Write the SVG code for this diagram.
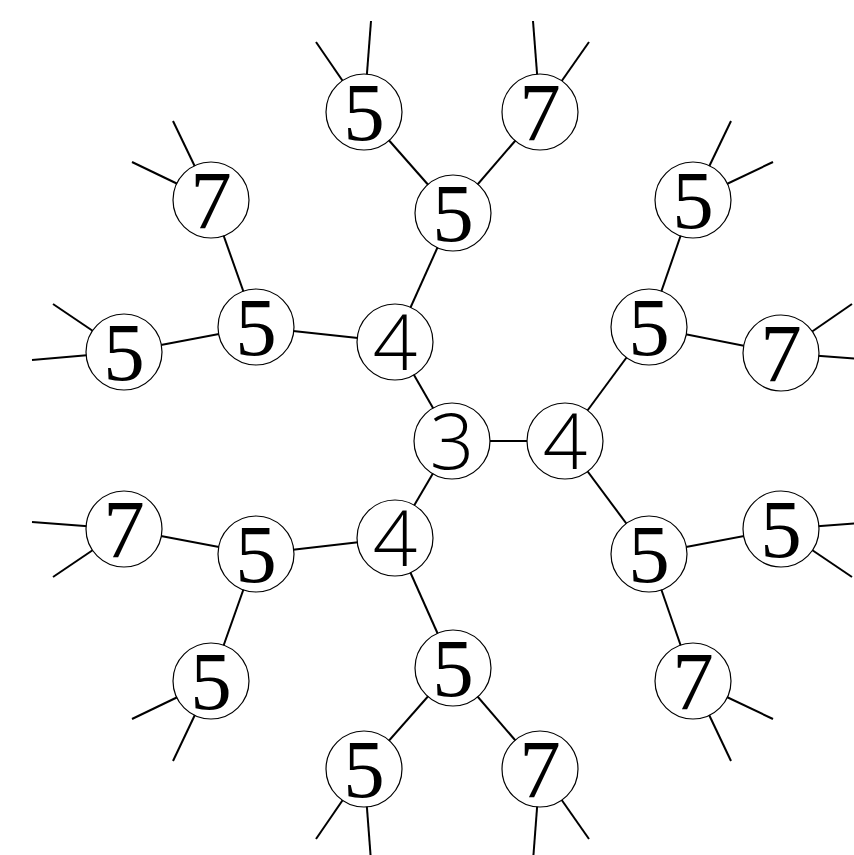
<svg xmlns="http://www.w3.org/2000/svg" width="854" height="855" viewBox="0 0 854 855">
<style>
.e{stroke:#000;stroke-width:2;fill:none}
.n circle{fill:#fff;stroke:#000;stroke-width:1.2}
.s{font-family:"Open Sans","DejaVu Sans",sans-serif;font-weight:300;font-size:78px;text-anchor:middle}
.r{font-family:"Liberation Serif","DejaVu Serif",serif;font-size:83px;text-anchor:middle}
</style>
<rect width="854" height="855" fill="#fff"/>
<g id="connectors">
<line class="e" x1="452" y1="441" x2="565" y2="441"/>
<line class="e" x1="452" y1="441" x2="395" y2="342"/>
<line class="e" x1="452" y1="441" x2="395" y2="538"/>
<line class="e" x1="395" y1="342" x2="453" y2="213"/>
<line class="e" x1="395" y1="342" x2="256" y2="327"/>
<line class="e" x1="453" y1="213" x2="364" y2="112"/>
<line class="e" x1="453" y1="213" x2="540" y2="112"/>
<line class="e" x1="256" y1="327" x2="211" y2="200"/>
<line class="e" x1="256" y1="327" x2="124" y2="352"/>
<line class="e" x1="395" y1="538" x2="453" y2="668"/>
<line class="e" x1="395" y1="538" x2="256" y2="554"/>
<line class="e" x1="453" y1="668" x2="364" y2="769"/>
<line class="e" x1="453" y1="668" x2="540" y2="769"/>
<line class="e" x1="256" y1="554" x2="124" y2="529"/>
<line class="e" x1="256" y1="554" x2="211" y2="681"/>
<line class="e" x1="565" y1="441" x2="649" y2="327"/>
<line class="e" x1="565" y1="441" x2="649" y2="554"/>
<line class="e" x1="649" y1="327" x2="693" y2="200"/>
<line class="e" x1="649" y1="327" x2="781" y2="353"/>
<line class="e" x1="649" y1="554" x2="781" y2="529"/>
<line class="e" x1="649" y1="554" x2="693" y2="681"/>
<line class="e" x1="364" y1="112" x2="316" y2="42"/>
<line class="e" x1="364" y1="112" x2="371" y2="21"/>
<line class="e" x1="540" y1="112" x2="533" y2="21"/>
<line class="e" x1="540" y1="112" x2="589" y2="42"/>
<line class="e" x1="211" y1="200" x2="173" y2="121"/>
<line class="e" x1="211" y1="200" x2="132" y2="162"/>
<line class="e" x1="124" y1="352" x2="53" y2="304"/>
<line class="e" x1="124" y1="352" x2="32" y2="360"/>
<line class="e" x1="693" y1="200" x2="731" y2="121"/>
<line class="e" x1="693" y1="200" x2="773" y2="162"/>
<line class="e" x1="781" y1="353" x2="852" y2="304"/>
<line class="e" x1="781" y1="353" x2="872" y2="360"/>
<line class="e" x1="124" y1="529" x2="32" y2="522"/>
<line class="e" x1="124" y1="529" x2="53" y2="577"/>
<line class="e" x1="211" y1="681" x2="132" y2="719"/>
<line class="e" x1="211" y1="681" x2="173" y2="761"/>
<line class="e" x1="364" y1="769" x2="316" y2="839"/>
<line class="e" x1="364" y1="769" x2="371" y2="861"/>
<line class="e" x1="540" y1="769" x2="533" y2="861"/>
<line class="e" x1="540" y1="769" x2="589" y2="839"/>
<line class="e" x1="781" y1="529" x2="872" y2="522"/>
<line class="e" x1="781" y1="529" x2="852" y2="577"/>
<line class="e" x1="693" y1="681" x2="773" y2="719"/>
<line class="e" x1="693" y1="681" x2="731" y2="761"/>
</g>
<g id="n3" class="n"><circle cx="452" cy="441" r="38"/><text class="s" x="452" y="469">3</text></g>
<g id="n4r" class="n"><circle cx="565" cy="441" r="38"/><text class="s" x="565" y="469">4</text></g>
<g id="n4t" class="n"><circle cx="395" cy="342" r="38"/><text class="s" x="395" y="370">4</text></g>
<g id="n4b" class="n"><circle cx="395" cy="538" r="38"/><text class="s" x="395" y="566">4</text></g>
<g id="n5a" class="n"><circle cx="453" cy="213" r="38"/><text class="r" x="453" y="241">5</text></g>
<g id="n5b" class="n"><circle cx="364" cy="112" r="38"/><text class="r" x="364" y="140">5</text></g>
<g id="n7a" class="n"><circle cx="540" cy="112" r="38"/><text class="r" x="540" y="140">7</text></g>
<g id="n5c" class="n"><circle cx="256" cy="327" r="38"/><text class="r" x="256" y="355">5</text></g>
<g id="n7b" class="n"><circle cx="211" cy="200" r="38"/><text class="r" x="211" y="228">7</text></g>
<g id="n5d" class="n"><circle cx="124" cy="352" r="38"/><text class="r" x="124" y="380">5</text></g>
<g id="n5e" class="n"><circle cx="453" cy="668" r="38"/><text class="r" x="453" y="696">5</text></g>
<g id="n5f" class="n"><circle cx="364" cy="769" r="38"/><text class="r" x="364" y="797">5</text></g>
<g id="n7c" class="n"><circle cx="540" cy="769" r="38"/><text class="r" x="540" y="797">7</text></g>
<g id="n5g" class="n"><circle cx="256" cy="554" r="38"/><text class="r" x="256" y="582">5</text></g>
<g id="n7d" class="n"><circle cx="124" cy="529" r="38"/><text class="r" x="124" y="557">7</text></g>
<g id="n5h" class="n"><circle cx="211" cy="681" r="38"/><text class="r" x="211" y="709">5</text></g>
<g id="n5i" class="n"><circle cx="649" cy="327" r="38"/><text class="r" x="649" y="355">5</text></g>
<g id="n5j" class="n"><circle cx="693" cy="200" r="38"/><text class="r" x="693" y="228">5</text></g>
<g id="n7e" class="n"><circle cx="781" cy="353" r="38"/><text class="r" x="781" y="381">7</text></g>
<g id="n5k" class="n"><circle cx="649" cy="554" r="38"/><text class="r" x="649" y="582">5</text></g>
<g id="n5l" class="n"><circle cx="781" cy="529" r="38"/><text class="r" x="781" y="557">5</text></g>
<g id="n7f" class="n"><circle cx="693" cy="681" r="38"/><text class="r" x="693" y="709">7</text></g>
</svg>
